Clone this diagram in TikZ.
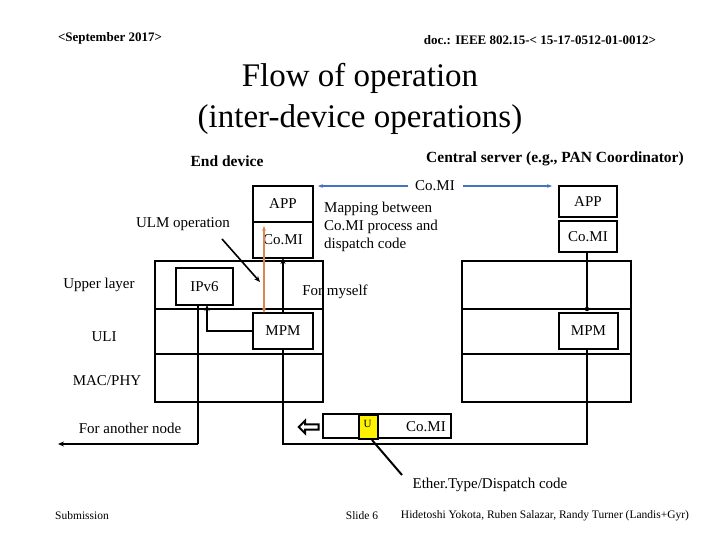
\documentclass[tikz,border=0pt]{standalone}
\usepackage{fontspec}
\setmainfont{Liberation Serif}
\usetikzlibrary{arrows.meta,shapes.arrows}
\begin{document}
\begin{tikzpicture}[x=1pt,y=-1pt,
 box/.style={draw,line width=2.6pt},
 ln/.style={line width=1.3pt},
 lab/.style={font=\fontsize{15}{18}\selectfont,inner sep=0pt},
 hd/.style={font=\bfseries\fontsize{13}{15}\selectfont,inner sep=0pt},
 ft/.style={font=\fontsize{11.5}{13}\selectfont,inner sep=0pt},
 arr/.style={ln,-{Stealth[length=6pt,width=5pt]}}]
\useasboundingbox (0,0) rectangle (720,540);
\fill[white] (0,0) rectangle (720,540);
% headers
\node[hd] (h1) at (110,38) {<September 2017>};
\node[hd] (h2) at (540,40) {doc.: IEEE 802.15-< 15-17-0512-01-0012>};
\node[font=\fontsize{33}{41}\selectfont,align=center,inner sep=0pt] (t) at (360,99) {Flow of operation\\(inter-device operations)};
\node[hd,font=\bfseries\fontsize{15.5}{18}\selectfont] (ed) at (227,161) {End device};
\node[hd,font=\bfseries\fontsize{15.5}{18}\selectfont] (cs) at (555,159) {Central server (e.g., PAN Coordinator)};
% left device
\node[box,minimum width=60pt,minimum height=36pt,lab] (app) at (283,204) {APP};
\node[box,minimum width=60pt,minimum height=36pt,lab] (comi) at (283,240) {Co.MI};
\draw[box] (155,261) rectangle (323,402);
\draw[box] (155,309) -- (323,309);
\draw[box] (155,354) -- (323,354);
\node[box,minimum width=57pt,minimum height=37pt,lab,fill=white] (ipv6) at (204.5,286.5) {IPv6};
\node[box,minimum width=60pt,minimum height=36pt,lab,fill=white] (mpm) at (283,331) {MPM};
\node[lab] (ulm) at (183,224) {ULM operation};
\node[lab] (ul) at (99,285) {Upper layer};
\node[lab] (uli) at (104,337) {ULI};
\node[lab] (mac) at (107,381) {MAC/PHY};
\node[lab] (fan) at (130,428) {For another node};
\node[lab] (fm) at (335,292) {For myself};
% right device
\node[box,minimum width=58pt,minimum height=31pt,lab] (app2) at (588,201.5) {APP};
\node[box,minimum width=58pt,minimum height=31pt,lab] (comi2) at (588,236.5) {Co.MI};
\draw[box] (462,261) rectangle (631,402);
\draw[box] (462,309) -- (631,309);
\draw[box] (462,354) -- (631,354);
\node[box,minimum width=59pt,minimum height=36pt,lab,fill=white] (mpm2) at (588.5,331) {MPM};
% CoMI link
\node[lab] (cl) at (435,186) {Co.MI};
\draw[-{Stealth[length=5pt]},line width=1.8pt,color={rgb,255:red,68;green,114;blue,196}] (408,186) -- (318,186);
\draw[-{Stealth[length=5pt]},line width=1.8pt,color={rgb,255:red,68;green,114;blue,196}] (463,186) -- (552,186);
\node[lab,align=left,anchor=north west] (map) at (324,202) {Mapping between\\Co.MI process and\\dispatch code};
% orange arrow
\draw[line width=1.8pt,color={rgb,255:red,221;green,132;blue,82},{Stealth[length=5pt]}-{Stealth[length=5pt]}] (264,226) -- (264,313);
% ULM pointer
\draw[arr,line width=1.6pt] (222,239) -- (260,282);
% connectors
\coordinate (c1) at (58,444);
\draw[arr] (mpm.west) -| (207,305);
\draw[ln] (198,305) -- (198,444);
\draw[arr] (198,444) -- (c1);
\draw[arr] (283,313) -- (283,258);
\draw[ln] (283,349) |- (587,444) -- (587,349);
\draw[ln] (587,252) -- (587,309);
\fill (587,309) circle (2.2pt);
% packet
\draw[box,line width=2pt] (323,414) rectangle (451,438);
\node[draw,line width=2pt,fill=yellow,minimum width=19pt,minimum height=24pt,inner sep=0pt,anchor=north west] (u) at (358,414) {};
\node[font=\fontsize{11}{12}\selectfont,inner sep=0pt] (ut) at (367.5,424) {U};
\node[lab] (pc) at (426,427) {Co.MI};
\node[single arrow,draw,line width=2pt,shape border rotate=180,minimum height=20pt,minimum width=13pt,single arrow head extend=3pt,inner sep=1pt] (ha) at (310,427) {};
\node[lab] (et) at (490,485) {Ether.Type/Dispatch code};
\draw[line width=2pt] (372,440) -- (402,475);
% footer
\node[ft] (f1) at (82,516) {Submission};
\node[ft] (f2) at (362,516) {Slide 6};
\node[ft] (f3) at (545,516) {Hidetoshi Yokota, Ruben Salazar, Randy Turner (Landis+Gyr)};
\end{tikzpicture}
\end{document}
